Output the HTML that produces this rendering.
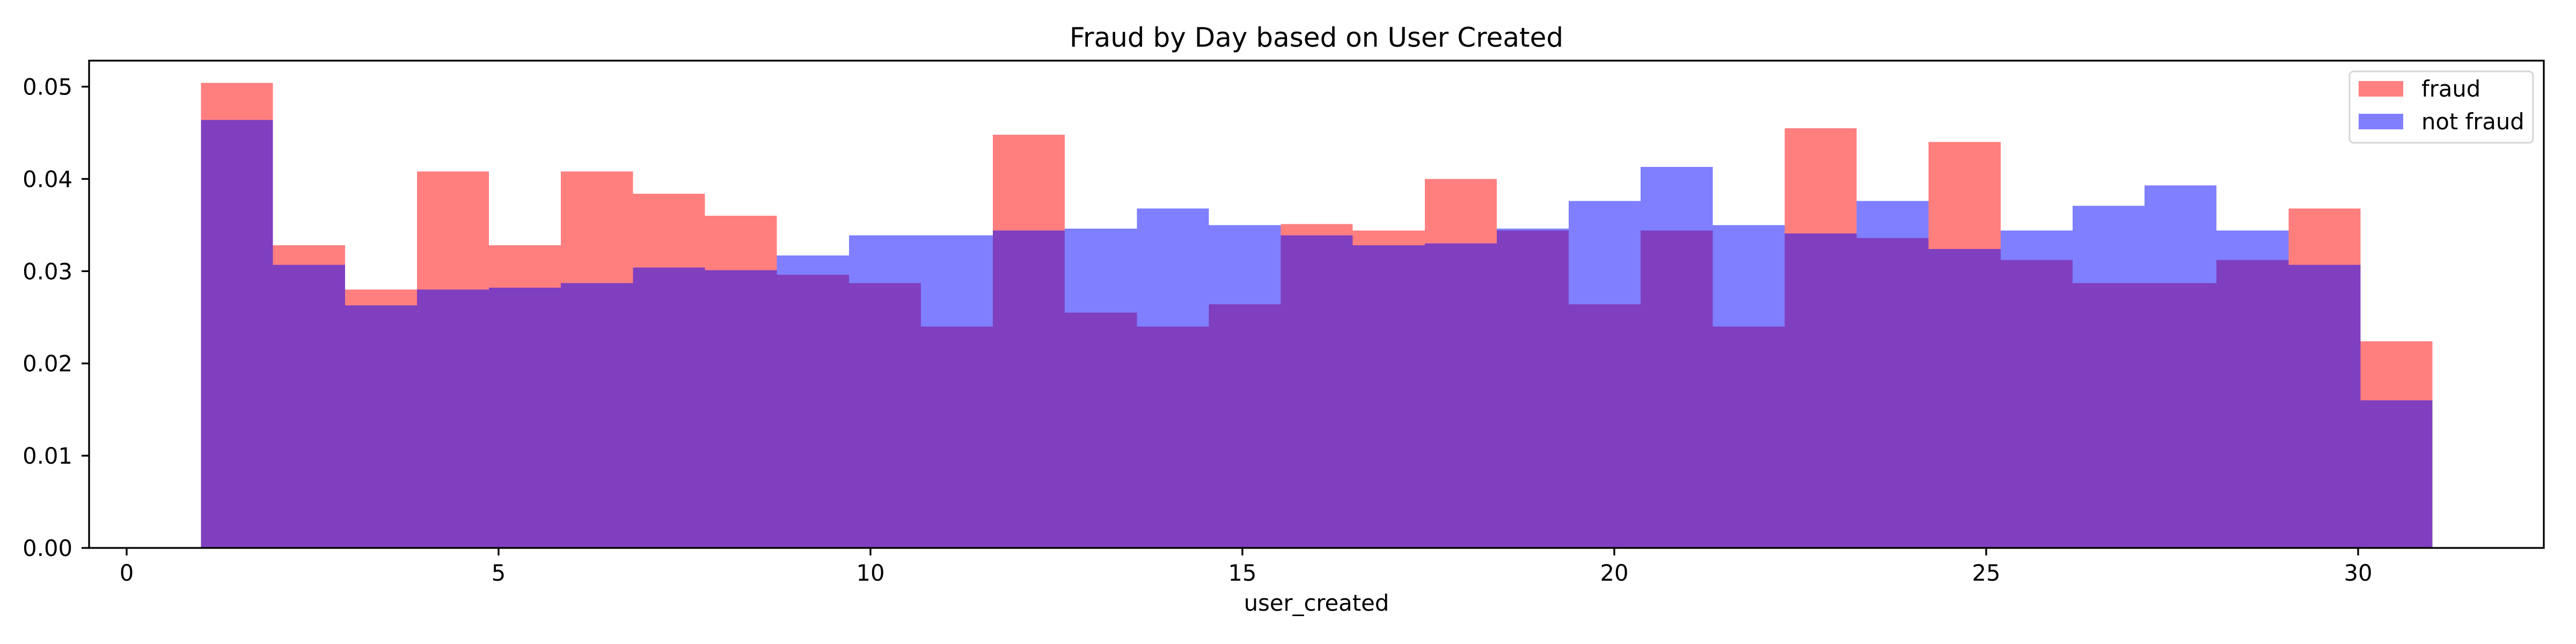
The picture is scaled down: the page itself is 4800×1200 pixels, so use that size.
<!DOCTYPE html>
<html><head><meta charset="utf-8"><style>
html,body{margin:0;padding:0;background:#fff;}
svg{display:block;}
text{font-family:"DejaVu Sans","Liberation Sans",sans-serif;fill:#000;}
</style></head><body>
<svg id="chart" width="4800" height="1200" viewBox="0 0 4800 1200" xmlns="http://www.w3.org/2000/svg">
<text x="2453" y="87" font-size="50" text-anchor="middle">Fraud by Day based on User Created</text>
<g id="bars"></g>
<g id="axes"></g>
<g>
<rect x="4378" y="133" width="342" height="133" rx="8" fill="#fff" fill-opacity="0.8" stroke="#d6d6d6" stroke-width="3"/>
<rect x="4395" y="151" width="83" height="29" fill="#ff8080"/>
<text x="4512" y="180" font-size="41.7">fraud</text>
<rect x="4395" y="212" width="83" height="29" fill="#8080ff"/>
<text x="4512" y="241" font-size="41.7">not fraud</text>
</g>
<text x="2453" y="1138" font-size="41.7" text-anchor="middle">user_created</text>
</svg>
<script>
const binRange = [1, 31];
const fraudValues = [0.0504,0.0328,0.0280,0.0408,0.0328,0.0408,0.0384,0.0360,0.0296,0.0287,0.0240,0.0448,0.0255,0.0240,0.0264,0.0351,0.0344,0.0400,0.0344,0.0264,0.0344,0.0240,0.0455,0.0336,0.0440,0.0312,0.0287,0.0287,0.0312,0.0368,0.0224];
const notFraudValues = [0.0464,0.0307,0.0263,0.0280,0.0282,0.0287,0.0304,0.0301,0.0317,0.0339,0.0339,0.0344,0.0346,0.0368,0.0350,0.0339,0.0328,0.0330,0.0346,0.0376,0.0413,0.0350,0.0341,0.0376,0.0324,0.0344,0.0371,0.0393,0.0344,0.0307,0.0160];
const xTicks = [0,5,10,15,20,25,30];
const yTicks = [0,0.01,0.02,0.03,0.04,0.05];
const yTickLabels = ["0.00","0.01","0.02","0.03","0.04","0.05"];

const L=166,R=4740,T=113,B=1021;
const x = v => 236 + v*138.6;
const y = v => B - v*17190;
const NS="http://www.w3.org/2000/svg";
const bars=document.getElementById('bars');
const axes=document.getElementById('axes');
function mk(tag,attrs,parent){const e=document.createElementNS(NS,tag);for(const k in attrs)e.setAttribute(k,attrs[k]);parent.appendChild(e);return e;}

function drawSeries(vals,color,name){
  const n=vals.length, w=(binRange[1]-binRange[0])/n;
  vals.forEach((v,i)=>{
    const s=binRange[0]+i*w;
    const r=mk('rect',{x:x(s),y:y(v),width:x(s+w)-x(s),height:B-y(v),fill:color,'fill-opacity':0.5,'shape-rendering':'crispEdges'},bars);
    
    
  });
}
drawSeries(fraudValues,'#ff0000','fraud');
drawSeries(notFraudValues,'#0000ff','not-fraud');

const frame=mk('rect',{x:L,y:T,width:R-L,height:B-T,fill:'none',stroke:'#000','stroke-width':3.3},axes);



xTicks.forEach(t=>{
  const ln=mk('line',{x1:x(t),x2:x(t),y1:B,y2:B+14,stroke:'#000','stroke-width':3.3},axes);
  
  
  const tx=mk('text',{x:x(t),y:B+61,'font-size':41.7,'text-anchor':'middle'},axes);
  tx.textContent=String(t);
  
  
});
yTicks.forEach((t,i)=>{
  const ln=mk('line',{x1:L-14,x2:L,y1:y(t),y2:y(t),stroke:'#000','stroke-width':3.3},axes);
  
  
  const tx=mk('text',{x:L-31,y:y(t)+15,'font-size':41.7,'text-anchor':'end'},axes);
  tx.textContent=yTickLabels[i];
  
  
});
</script>
</body></html>
